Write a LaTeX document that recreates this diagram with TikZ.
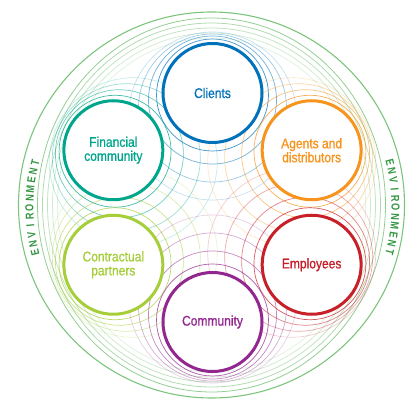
\documentclass[tikz,border=0pt]{standalone}
\usepackage{fontspec}
\setmainfont{Liberation Sans}
\newfontfamily\lblfont{Liberation Sans}[FakeStretch=0.86,FakeBold=0.9]
\newfontfamily\envfont{Liberation Sans}[FakeStretch=0.8]
\usetikzlibrary{calc}
\definecolor{cBlue}{RGB}{0,114,188}
\definecolor{cTeal}{RGB}{0,166,140}
\definecolor{cOrange}{RGB}{247,148,29}
\definecolor{cLime}{RGB}{166,206,57}
\definecolor{cRed}{RGB}{200,32,40}
\definecolor{cPurple}{RGB}{146,39,143}
\definecolor{envLine}{RGB}{110,190,110}
\definecolor{envText}{RGB}{50,150,65}
\begin{document}
\begin{tikzpicture}[x=1pt,y=1pt,
  stake/.style={circle, draw=#1, line width=3pt, minimum size=99pt, inner sep=0pt,
    fill=white, text=#1, font=\lblfont\fontsize{14}{14}\selectfont, align=center},
  ripple/.style={draw=#1, line width=0.7pt},
  envring/.style={draw=envLine, line width=0.8pt},
  envletter/.style={text=envText, font=\envfont\bfseries\fontsize{11.5}{11.5}\selectfont, inner sep=0pt}]
\useasboundingbox (0,0) rectangle (410,399);
\coordinate (H) at (212.5,191.5);
\coordinate (E) at (211.5,194);
\coordinate (pcl) at ($(H)+(90:114.5pt)$);
\coordinate (pag) at ($(H)+(30:114.5pt)$);
\coordinate (pem) at ($(H)+(-30:114.5pt)$);
\coordinate (pco) at ($(H)+(-90:114.5pt)$);
\coordinate (pcp) at ($(H)+(210:114.5pt)$);
\coordinate (pfc) at ($(H)+(150:114.5pt)$);
% environment rings
\draw[envring, line width=1.1pt, draw opacity=0.9] (E) circle[radius=193pt];
\foreach \rx/\ry/\o in {174/187/0.75,169/182/0.55,164/177/0.42,159/172/0.3,154/167/0.2}
  \draw[envring, draw opacity=\o] (E) ellipse[x radius=\rx pt, y radius=\ry pt];
% ripples
\foreach \p/\c in {pcl/cBlue, pfc/cTeal, pag/cOrange, pcp/cLime, pem/cRed, pco/cPurple} {
  \foreach \r/\d/\o in {56/2/0.75, 64/7/0.55, 74/15/0.38, 84/23/0.22}
    \draw[ripple=\c, draw opacity=\o] ($(\p)!\d pt!(H)$) circle[radius=\r pt];
}
% stakeholders
\node[stake=cBlue] (clients) at (pcl) {Clients};
\node[stake=cTeal] (fincomm) at (pfc) {Financial\\community};
\node[stake=cOrange] (agents) at (pag) {Agents and\\distributors};
\node[stake=cLime] (contract) at (pcp) {Contractual\\partners};
\node[stake=cRed] (employees) at (pem) {Employees};
\node[stake=cPurple] (community) at (pco) {Community};
% environment text
\foreach \l [count=\i] in {E,N,V,I,R,O,N,M,E,N,T} {
  \pgfmathsetmacro\a{180+(6-\i)*2.85}
  \node[envletter, rotate=\a-90] (envL\i) at ($(H)+(\a:183pt)$) {\l};
  \pgfmathsetmacro\b{(6-\i)*2.85}
  \node[envletter, rotate=\b-90] (envR\i) at ($(H)+(\b:183pt)$) {\l};
}
\end{tikzpicture}
\end{document}
